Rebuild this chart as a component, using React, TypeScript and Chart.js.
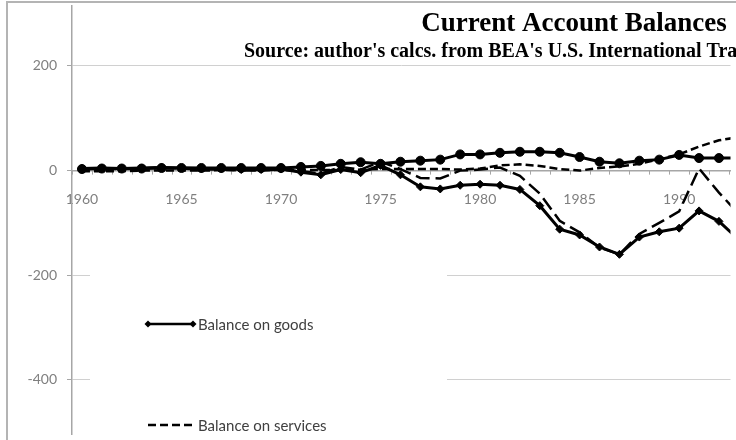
import React, { useEffect, useRef } from "react";
import { Chart, registerables } from "chart.js";

Chart.register(...registerables);

// ---------- data (billions of dollars) ----------
const years = [
  1960, 1961, 1962, 1963, 1964, 1965, 1966, 1967, 1968, 1969,
  1970, 1971, 1972, 1973, 1974, 1975, 1976, 1977, 1978, 1979,
  1980, 1981, 1982, 1983, 1984, 1985, 1986, 1987, 1988, 1989,
  1990, 1991, 1992, 1993,
];

const goods = [
  4, 5, 4, 5, 6, 5, 4, 4, 2, 2,
  3, -3, -8, 2, -4, 10, -8, -31, -35, -28,
  -26, -28, -36, -67, -112, -123, -146, -160, -127, -117,
  -110, -77, -97, -132,
];

const services = [
  -1, -1, -1, 0, 0, 0, 0, 1, 1, 1,
  1, 1, 1, 1, 2, 3, 3, 3, 3, 2,
  4, 10, 12, 9, 3, 0, 5, 8, 13, 22,
  31, 46, 58, 64,
];

const income = [
  3, 4, 4, 4, 5, 5, 5, 5, 5, 5,
  5, 7, 9, 13, 16, 13, 17, 19, 21, 31,
  31, 34, 36, 36, 34, 26, 17, 14, 19, 21,
  30, 24, 24, 24,
];

const currentAccount = [
  3, 4, 3, 4, 6, 4, 2, 2, 0, 0,
  2, -1, -6, 7, 2, 17, 3, -14, -15, 0,
  2, 6, -10, -44, -96, -118, -147, -160, -121, -100,
  -78, 4, -42, -83,
];

const seriesLabels = [
  "Balance on goods",
  "Balance on services",
  "Balance on income",
  "Current account balance",
];

const xTickYears = [1960, 1965, 1970, 1975, 1980, 1985, 1990];
const yTickValues = [-400, -200, 0, 200];

const titleText = "Current Account Balances";
const subtitleText =
  "Source: author's calcs. from BEA's U.S. International Transactions Accounts";

// ---------- styling ----------
const AXIS_FONT = "Lato, 'Open Sans', sans-serif";
const AXIS_GREY = "#a6a6a6";
const LABEL_GREY = "#7f7f7f";

const frameAndTitlePlugin = {
  id: "frameAndTitle",
  beforeDraw(chart: any) {
    const { ctx } = chart;
    ctx.save();
    ctx.fillStyle = "#ffffff";
    ctx.fillRect(0, 0, chart.width, chart.height);
    ctx.strokeStyle = "#b4b4b4";
    ctx.lineWidth = 2;
    ctx.strokeRect(7, 2, chart.width * 3, chart.height * 3);
    ctx.restore();
  },
  beforeDatasetsDraw(chart: any) {
    const { ctx } = chart;
    const xs = chart.scales.x;
    const ys = chart.scales.y;
    const y0 = ys.getPixelForValue(0);
    // category-boundary tick marks under the horizontal axis
    ctx.save();
    ctx.strokeStyle = AXIS_GREY;
    ctx.lineWidth = 1;
    for (let b = xs.min; b <= xs.max; b += 1) {
      const px = Math.round(xs.getPixelForValue(b)) + 0.5;
      ctx.beginPath();
      ctx.moveTo(px, y0);
      ctx.lineTo(px, y0 + 4);
      ctx.stroke();
    }
    ctx.restore();

    // legend box (inside plot area, white, covers gridlines)
    ctx.save();
    ctx.fillStyle = "#ffffff";
    ctx.fillRect(90, 215, 357, chart.height);
    chart.data.datasets.forEach((ds: any, i: number) => {
      const ly = 324 + i * 101;
      const x1 = 148;
      const x2 = 193;
      ctx.strokeStyle = "#000";
      ctx.lineWidth = 2.5;
      ctx.setLineDash(ds.borderDash || []);
      ctx.beginPath();
      ctx.moveTo(x1, ly);
      ctx.lineTo(x2, ly);
      ctx.stroke();
      ctx.setLineDash([]);
      if (ds.pointRadius > 0) {
        ctx.fillStyle = "#000";
        [x1, x2].forEach((px) => {
          const r = 3.5;
          ctx.beginPath();
          if (ds.pointStyle === "rectRot") {
            ctx.moveTo(px, ly - r);
            ctx.lineTo(px + r, ly);
            ctx.lineTo(px, ly + r);
            ctx.lineTo(px - r, ly);
            ctx.closePath();
          } else {
            ctx.arc(px, ly, r, 0, Math.PI * 2);
          }
          ctx.fill();
        });
      }
      ctx.fillStyle = "#404040";
      ctx.font = `15px ${AXIS_FONT}`;
      ctx.textAlign = "left";
      ctx.textBaseline = "middle";
      ctx.fillText(ds.label, 198, ly + 1);
    });
    ctx.restore();
  },
  afterDraw(chart: any) {
    const { ctx } = chart;
    const cx = 574;
    ctx.save();
    ctx.fillStyle = "#000";
    ctx.textAlign = "center";
    ctx.textBaseline = "alphabetic";
    ctx.font = "bold 27px 'Liberation Serif', 'DejaVu Serif', serif";
    ctx.fillText(titleText, cx, 31);
    ctx.font = "bold 20px 'Liberation Serif', 'DejaVu Serif', serif";
    ctx.fillText(subtitleText, cx - 2, 57);
    ctx.restore();
  },
};

export default function App() {
  const ref = useRef<HTMLCanvasElement>(null);

  useEffect(() => {
    const canvas = ref.current;
    if (!canvas) return;
    const toPoints = (vals: number[]) =>
      years.map((yr, i) => ({ x: yr, y: vals[i] }));

    const chart = new Chart(canvas, {
      type: "line",
      data: {
        datasets: [
          {
            label: seriesLabels[0],
            data: toPoints(goods),
            borderColor: "#000",
            backgroundColor: "#000",
            borderWidth: 3,
            pointStyle: "rectRot",
            pointRadius: 4,
            pointBackgroundColor: "#000",
            pointBorderColor: "#000",
            pointBorderWidth: 1,
            tension: 0,
            fill: false,
          },
          {
            label: seriesLabels[1],
            data: toPoints(services),
            borderColor: "#000",
            borderWidth: 2.5,
            borderDash: [8, 4],
            pointRadius: 0,
            tension: 0,
            fill: false,
          },
          {
            label: seriesLabels[2],
            data: toPoints(income),
            borderColor: "#000",
            backgroundColor: "#000",
            borderWidth: 3,
            pointStyle: "circle",
            pointRadius: 4.5,
            pointBackgroundColor: "#000",
            pointBorderColor: "#000",
            pointBorderWidth: 1,
            tension: 0,
            fill: false,
          },
          {
            label: seriesLabels[3],
            data: toPoints(currentAccount),
            borderColor: "#000",
            borderWidth: 2.5,
            borderDash: [14, 6],
            pointRadius: 0,
            tension: 0,
            fill: false,
          },
        ],
      },
      options: {
        animation: false,
        responsive: false,
        devicePixelRatio: 1,
        layout: { padding: { top: 4, left: 0, right: 0, bottom: 0 } },
        plugins: {
          legend: { display: false },
          title: { display: false },
          tooltip: { enabled: false },
        },
        scales: {
          x: {
            type: "linear",
            min: 1959.5,
            max: 1992.58,
            position: { y: 0 } as any,
            afterBuildTicks: (s: any) => {
              s.ticks = xTickYears.map((v) => ({ value: v }));
            },
            afterFit: (s: any) => {
              s.paddingLeft = 0;
              s.paddingRight = 0;
            },
            grid: { display: false, drawTicks: false },
            border: { display: true, color: AXIS_GREY, width: 1.5 },
            ticks: {
              autoSkip: false,
              maxRotation: 0,
              padding: 20,
              color: LABEL_GREY,
              font: { family: AXIS_FONT, size: 14 },
              callback: (v: any) => String(v),
            },
          },
          y: {
            type: "linear",
            min: -504.4,
            max: 315.6,
            afterBuildTicks: (s: any) => {
              s.ticks = yTickValues.map((v) => ({ value: v }));
            },
            afterFit: (s: any) => {
              s.width = 72;
              s.paddingTop = 0;
              s.paddingBottom = 0;
            },
            grid: {
              color: "#d0d0d0",
              lineWidth: 1,
              drawTicks: true,
              tickLength: 5,
              tickColor: AXIS_GREY,
            },
            border: { display: true, color: AXIS_GREY, width: 1.5 },
            ticks: {
              padding: 10,
              color: LABEL_GREY,
              font: { family: AXIS_FONT, size: 14 },
              callback: (v: any) => String(v),
            },
          },
        },
      },
      plugins: [frameAndTitlePlugin],
    });

    return () => chart.destroy();
  }, []);

  return (
    <div
      style={{
        position: "absolute",
        left: 0,
        top: 0,
        width: 736,
        height: 440,
        overflow: "hidden",
        background: "#fff",
      }}
    >
      <canvas
        ref={ref}
        width={736}
        height={440}
        style={{ display: "block", width: 736, height: 440 }}
      />
    </div>
  );
}
